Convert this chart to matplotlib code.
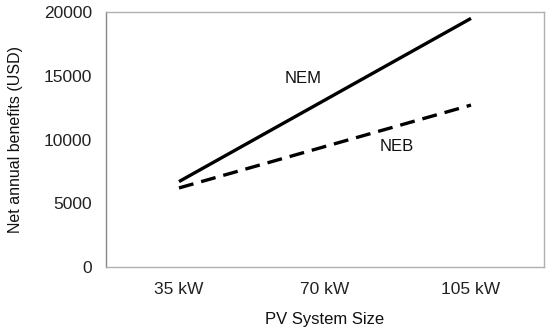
import matplotlib
matplotlib.use("Agg")
import matplotlib.pyplot as plt

plt.rcParams["font.family"] = ["Liberation Sans", "DejaVu Sans"]

# data
sizes = ["35 kW", "70 kW", "105 kW"]
nem = [6700, 13100, 19500]
neb = [6200, 9450, 12700]

fig = plt.figure(figsize=(5.5, 3.34), dpi=100)
ax = fig.add_axes([106 / 550, 1 - 267 / 334, 438 / 550, 255 / 334])

x = list(range(len(sizes)))
ax.plot(x, nem, color="black", lw=2.4, solid_capstyle="butt")
ax.plot(x, neb, color="black", lw=2.4, dashes=(4.5, 2.4), dash_capstyle="butt")

ax.set_xlim(-0.5, 2.5)
ax.set_ylim(0, 20000)
ax.set_yticks([0, 5000, 10000, 15000, 20000])
ax.set_xticks(x)
ax.set_xticklabels(sizes)
ax.tick_params(length=0, labelsize=12.5, colors="#222222")
ax.tick_params(axis="y", pad=10)
ax.tick_params(axis="x", pad=11)

for s in ax.spines.values():
    s.set_color("#b0b0b0")
    s.set_linewidth(1)
ax.spines["left"].set_color("#888888")

ax.text(0.85, 14800, "NEM", fontsize=12, ha="center", va="center", color="#111111")
ax.text(1.49, 9470, "NEB", fontsize=12, ha="center", va="center", color="#111111")

ax.set_ylabel("Net annual benefits (USD)", fontsize=11.5, color="#111111")
ax.set_xlabel("PV System Size", fontsize=12, color="#111111")
ax.yaxis.set_label_coords(-0.19, 0.5)
ax.xaxis.set_label_coords(0.5, -0.176)

fig.savefig("out.png", dpi=100)
